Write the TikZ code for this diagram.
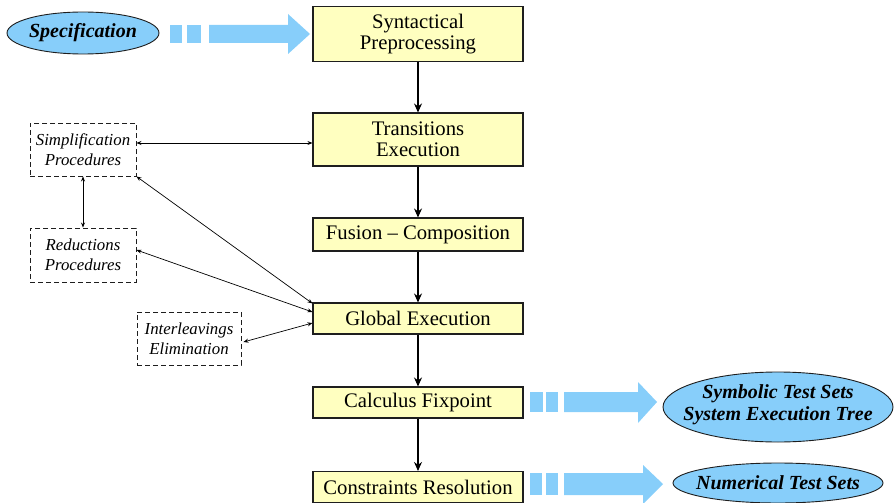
\documentclass[tikz,border=0pt]{standalone}
\usepackage{fontspec}
\setmainfont{Liberation Serif}
\usetikzlibrary{shapes.geometric,arrows.meta,calc}
\definecolor{boxyellow}{RGB}{255,255,192}
\definecolor{skyblue}{RGB}{135,206,250}
\definecolor{edge}{RGB}{30,30,30}
\tikzset{
  mainbox/.style={draw=edge,line width=1.1pt,fill=boxyellow,minimum width=210pt,inner sep=0pt,align=center,
    font=\fontsize{20.7pt}{21pt}\selectfont},
  dashbox/.style={draw=edge,line width=0.9pt,dash pattern=on 5pt off 3pt,minimum width=106pt,minimum height=53pt,inner sep=0pt,align=center,
    font=\fontsize{16.8pt}{20pt}\selectfont\itshape},
  bluetext/.style={inner sep=0pt,align=center,font=\fontsize{20pt}{22pt}\selectfont\bfseries\itshape},
  ellfill/.style={draw=edge,line width=0.9pt,fill=skyblue},
  flow/.style={draw=black,line width=1.1pt,-{Stealth[length=9pt,width=8pt]}},
  link/.style={draw=black,line width=0.7pt,{Stealth[length=5pt,width=4pt]}-{Stealth[length=5pt,width=4pt]}},
  fat/.style={fill=skyblue,draw=none}
}
\begin{document}
\begin{tikzpicture}[x=1pt,y=-1pt]
\useasboundingbox (0,0) rectangle (894,503);
% ellipse backgrounds
\path[ellfill] (83,33) ellipse [x radius=76, y radius=21];
\path[ellfill] (778,407) ellipse [x radius=115, y radius=35];
\path[ellfill] (778,483) ellipse [x radius=105, y radius=20];
% main boxes
\node[mainbox,minimum height=55pt] (syn) at (418,34) {Syntactical\\Preprocessing};
\node[mainbox,minimum height=53pt] (trans) at (418,139.5) {Transitions\\Execution};
\node[mainbox,minimum height=33pt] (fus) at (418,234.5) {Fusion -- Composition};
\node[mainbox,minimum height=31pt] (glob) at (418,318.5) {Global Execution};
\node[mainbox,minimum height=31pt] (calc) at (418,402.5) {Calculus Fixpoint};
\node[mainbox,minimum height=31pt] (cons) at (418,487) {Constraints Resolution};
% dashed boxes
\node[dashbox] (simp) at (83,149.5) {Simplification\\Procedures};
\node[dashbox,minimum height=54pt] (red) at (83,255) {Reductions\\Procedures};
\node[dashbox,minimum width=104pt] (inter) at (189,338.5) {Interleavings\\Elimination};
% ellipse texts
\node[bluetext] (spec) at (83,33) {Specification};
\node[bluetext] (sym) at (778,405) {Symbolic Test Sets\\System Execution Tree};
\node[bluetext] (num) at (778,483) {Numerical Test Sets};
% main flow
\draw[flow] (syn) -- (trans);
\draw[flow] (trans) -- (fus);
\draw[flow] (fus) -- (glob);
\draw[flow] (glob) -- (calc);
\draw[flow] (calc) -- (cons);
% links
\coordinate (s1) at ([yshift=6.5pt]simp.east);
\draw[link] (s1) -- (s1 -| trans.west);
\draw[link] (simp.south) -- (red.north);
\draw[link] (simp.south east) -- ([yshift=-1pt]glob.north west);
\draw[link] ([yshift=5pt]red.east) -- ([yshift=6.5pt]glob.west);
\draw[link] ([xshift=2pt,yshift=-3.5pt]inter.east) -- ([yshift=-4.5pt]glob.west);
% fat blue arrows
\fill[fat] (170,25) rectangle (182,43);
\fill[fat] (187,25) rectangle (201,43);
\fill[fat] (209,25) -- (288,25) -- (288,14) -- (310,34) -- (288,54) -- (288,43) -- (209,43) -- cycle;
\fill[fat] (530,392) rectangle (543,412);
\fill[fat] (546,392) rectangle (558,412);
\fill[fat] (564,392) -- (638,392) -- (638,382) -- (657,402) -- (638,423) -- (638,412) -- (564,412) -- cycle;
\fill[fat] (530,473) rectangle (542,495);
\fill[fat] (546,473) rectangle (558,495);
\fill[fat] (564,473) -- (643,473) -- (643,465) -- (663,484) -- (643,504) -- (643,495) -- (564,495) -- cycle;
\end{tikzpicture}
\end{document}
